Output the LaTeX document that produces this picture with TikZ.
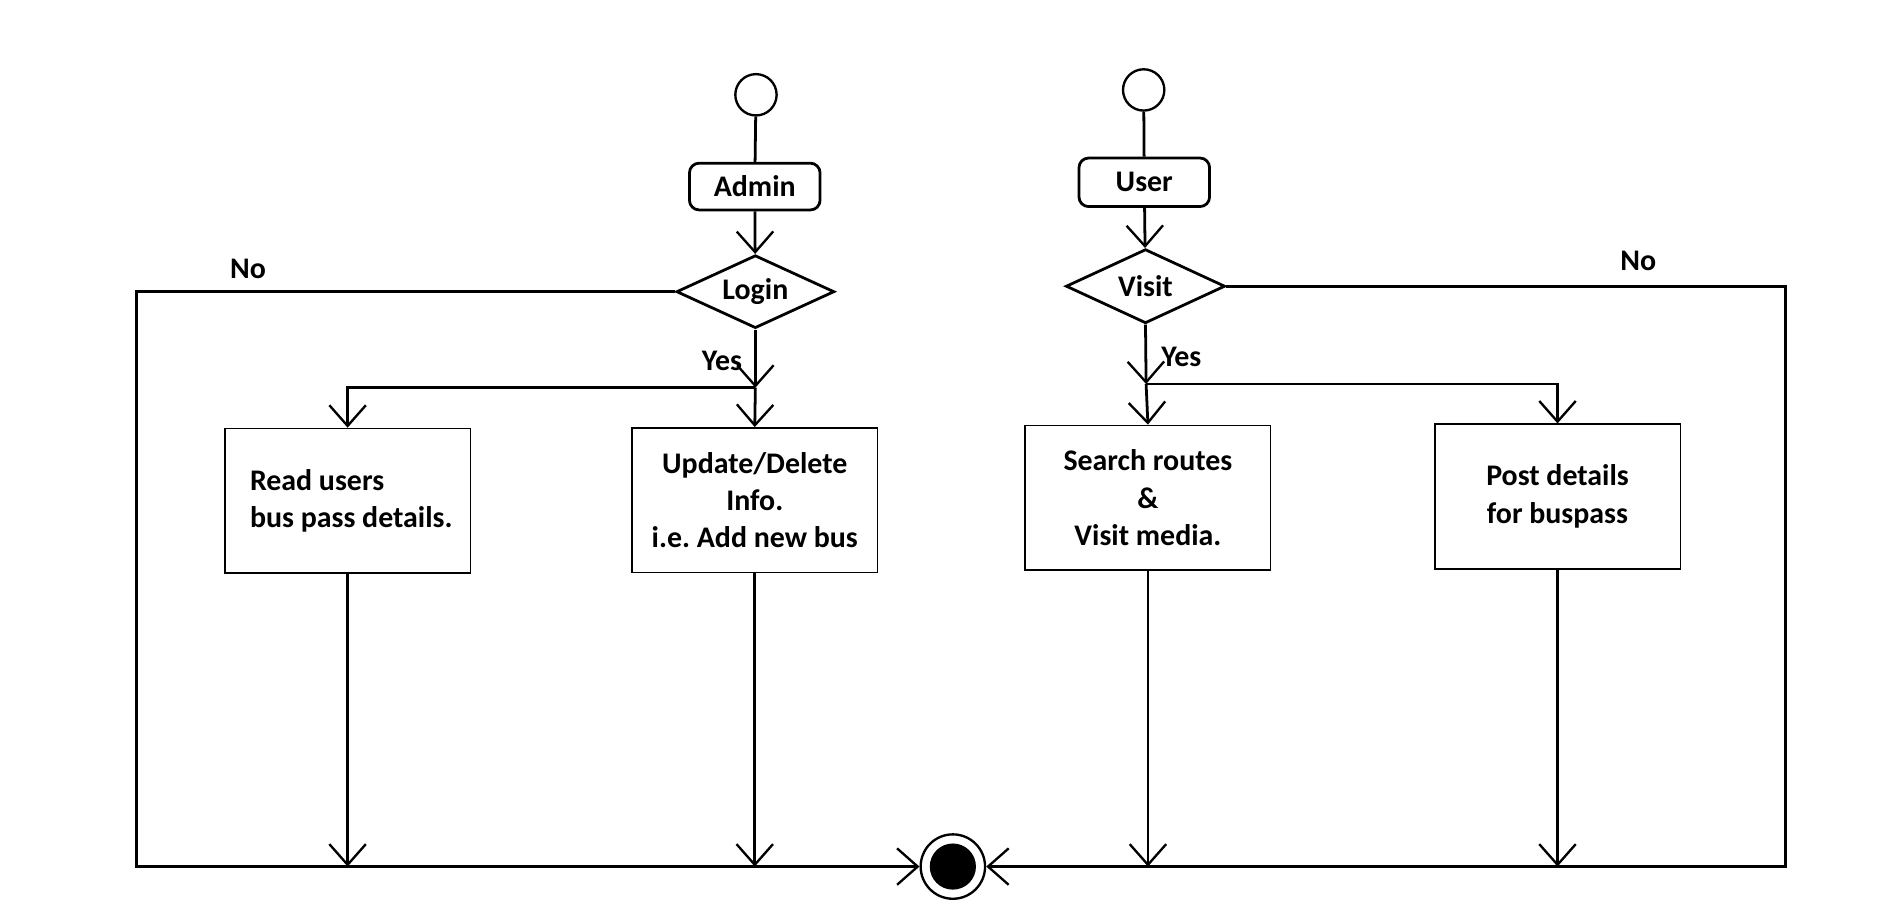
\documentclass[tikz,border=0pt]{standalone}
\usepackage{fontspec}
\setmainfont{Carlito}
\usetikzlibrary{shapes.geometric,arrows.meta}
\begin{document}
\begin{tikzpicture}[x=0.02cm,y=-0.02cm,
  every node/.style={font=\fontsize{14}{17.5}\selectfont\bfseries},
  ln/.style={line width=1.3pt},
  arr/.style={ln,-{Straight Barb[length=3.4mm,width=6mm,line width=1.1pt]}},
  startc/.style={circle,draw,line width=1.1pt,minimum size=0.68cm,inner sep=0pt},
  actor/.style={draw,line width=1.3pt,rounded corners=0.16cm,minimum width=2.15cm,minimum height=0.77cm,inner sep=0pt},
  decide/.style={diamond,draw,line width=1.3pt,aspect=2.15,inner sep=0pt,minimum width=2.6cm,minimum height=1.2cm},
  task/.style={draw,line width=0.7pt,minimum width=4.04cm,minimum height=2.38cm,inner sep=0pt},
  lbl/.style={inner sep=0pt}]
\useasboundingbox (0,0) rectangle (1560,760);
% start nodes
\node[startc] (s1) at (622,78) {};
\node[startc] (s2) at (941,74) {};
\node[actor] (admin) at (621,153.5) {Admin};
\node[actor,minimum height=0.8cm] (user) at (941.5,150) {User};
\node[decide] (login) at (621.5,240) {Login};
\node[decide,minimum width=2.62cm,minimum height=1.22cm] (visit) at (942.5,235.5) {Visit};
% task boxes
\node[task,align=left] (read) at (286,412) {\hspace*{0.12cm}Read users\\\hspace*{0.12cm}bus pass details.};
\node[task,align=center] (upd) at (621,411.5) {Update/Delete\\Info.\\i.e.\ Add new bus};
\node[task,align=center] (search) at (944.5,409.5) {Search routes\\\&\\Visit media.};
\node[task,align=center] (post) at (1281.5,408.5) {Post details\\for buspass};
% end node
\node[circle,draw,line width=1.1pt,minimum size=1.06cm,inner sep=0pt] (endn) at (784,713) {};
\node[circle,fill,minimum size=0.76cm,inner sep=0pt] (endin) at (784,713) {};
% helper coordinates
\coordinate (bl) at (112,713);
\coordinate (br) at (1469,713);
\coordinate (j1) at (621.5,319);
\coordinate (j2) at (943,316);
% labels
\node[lbl] (no1) at (204,221) {No};
\node[lbl] (no2) at (1348,215) {No};
\node[lbl] (yes1) at (594,297) {Yes};
\node[lbl] (yes2) at (972,294) {Yes};
% connectors
\draw[ln] (s1) -- (admin);
\draw[ln] (s2) -- (user);
\draw[arr] (admin) -- (login);
\draw[arr] (user) -- (visit);
\draw[arr] (login.south) -- (j1);
\draw[arr] (visit.south) -- (j2);
\draw[arr] (j1) -| (read.north);
\draw[arr] (j1) -- (upd.north);
\draw[arr] (j2) -- (search.north);
\draw[arr] (j2) -| (post.north);
\draw[arr] (login.west) -| (bl) -- (endn.west);
\draw[arr] (visit.east) -| (br) -- (endn.east);
\draw[arr] (read.south) -- (read.south |- bl);
\draw[arr] (upd.south) -- (upd.south |- bl);
\draw[arr] (search.south) -- (search.south |- bl);
\draw[arr] (post.south) -- (post.south |- bl);
\end{tikzpicture}
\end{document}
